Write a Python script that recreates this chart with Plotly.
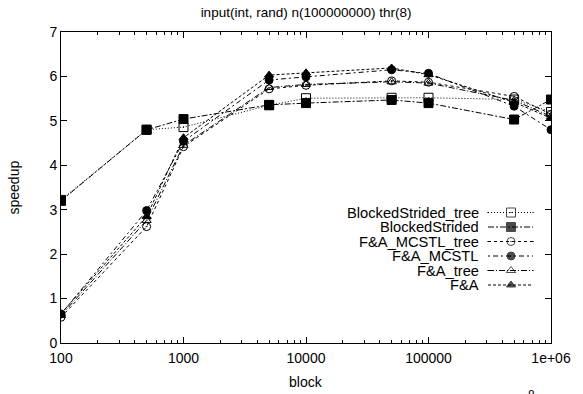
import plotly.graph_objects as go

block = [100, 500, 1000, 5000, 10000, 50000, 100000, 500000, 1000000]

bs_tree = [3.22, 4.80, 4.86, 5.35, 5.51, 5.52, 5.52, 5.48, 5.20]
bs = [3.20, 4.80, 5.04, 5.36, 5.40, 5.47, 5.40, 5.03, 5.48]
mcstl_tree = [0.58, 2.62, 4.42, 5.72, 5.80, 5.90, 5.87, 5.55, 5.15]
mcstl = [0.65, 2.98, 4.54, 5.92, 5.99, 6.15, 6.07, 5.33, 4.80]
fa_tree = [0.62, 2.76, 4.45, 5.75, 5.82, 5.88, 5.85, 5.46, 5.10]
fa = [0.66, 2.85, 4.62, 6.03, 6.08, 6.19, 6.04, 5.42, 5.06]

names = ["BlockedStrided_tree", "BlockedStrided", "F&A_MCSTL_tree",
         "F&A_MCSTL", "F&A_tree", "F&A"]
series = [bs_tree, bs, mcstl_tree, mcstl, fa_tree, fa]
symbols = ["square-open-dot", "square", "circle-open-dot", "circle",
           "triangle-up-open-dot", "triangle-up"]
sizes = [9, 9, 8, 8, 8, 8]
dashes = ["1px,2px", "6px,2px,2px,2px", "3px,3px", "2px,3px,5px,3px",
          "6px,2px,1px,2px", "3px,2px"]

x_tickvals = [100, 1000, 10000, 100000, 1000000]
x_ticktext = ["100", "1000", "10000", "100000", "1e+06"]
y_tickvals = [0, 1, 2, 3, 4, 5, 6, 7]
minor_vals = [m * 10 ** e for e in range(2, 6) for m in range(2, 10)]

FONT = "Liberation Sans, Arial, Helvetica, sans-serif"
W, H = 583, 394
L, R, T, B = 61, 551, 32, 343


def px(x):
    return (x - L) / (R - L)


def py(y):
    return (B - y) / (B - T)


fig = go.Figure()

for name, ys, sym, sz, dash in zip(names, series, symbols, sizes, dashes):
    fig.add_trace(go.Scatter(
        x=block, y=ys, mode="lines+markers", name=name, showlegend=False,
        line=dict(color="black", width=1, dash=dash),
        marker=dict(symbol=sym, size=sz, color="black",
                    line=dict(color="black", width=1)),
    ))

# custom gnuplot-style key (text left, sample right) in pixel-like overlay axes
key_x0, key_xm, key_x1, key_text_x = 488, 511, 533, 480
key_y0, key_dy = 212.5, 14.5
for i, (name, sym, sz, dash) in enumerate(zip(names, symbols, sizes, dashes)):
    yy = key_y0 + i * key_dy
    fig.add_trace(go.Scatter(
        x=[key_x0, key_xm, key_x1], y=[yy, yy, yy], mode="lines+markers",
        xaxis="x2", yaxis="y2", showlegend=False, hoverinfo="skip",
        line=dict(color="black", width=1, dash=dash),
        marker=dict(symbol=sym, size=[0, sz, 0], color="black",
                    line=dict(color="black", width=1)),
    ))
    fig.add_annotation(x=px(key_text_x), y=py(yy), xref="paper", yref="paper", text=name,
                       showarrow=False, xanchor="right", yanchor="middle", borderpad=0,
                       font=dict(family=FONT, size=14.7, color="black"))

# axis titles
fig.add_annotation(x=px(13), y=py(187.5), xref="paper", yref="paper", text="speedup",
                   textangle=-90, showarrow=False, xanchor="center", yanchor="middle",
                   font=dict(family=FONT, size=14, color="black"))
fig.add_annotation(x=px(306), y=py(382), xref="paper", yref="paper", text="block",
                   showarrow=False, xanchor="center", yanchor="middle",
                   font=dict(family=FONT, size=14, color="black"))

fig.add_annotation(x=px(531), y=py(386.5), xref="paper", yref="paper", text="8",
                   showarrow=False, xanchor="center", yanchor="top", borderpad=0,
                   font=dict(family=FONT, size=12, color="black"))

axis_common = dict(showline=True, linecolor="black", linewidth=1, mirror="allticks",
                   ticks="inside", tickcolor="black", ticklen=6, showgrid=False,
                   zeroline=False, automargin=False,
                   tickfont=dict(family=FONT, size=14, color="black"))

fig.update_layout(
    width=W, height=H,
    margin=dict(l=L, r=W - R, t=T, b=H - B, autoexpand=False),
    plot_bgcolor="white", paper_bgcolor="white",
    title=dict(text="input(int, rand) n(100000000) thr(8)", x=0.525, xanchor="center",
               y=0.98, yanchor="top",
               font=dict(family=FONT, size=13.5, color="black")),
    xaxis=dict(type="log", range=[2, 6], tickmode="array", tickvals=x_tickvals,
               ticktext=x_ticktext, ticklabelstandoff=2,
               minor=dict(tickmode="array", tickvals=minor_vals, ticks="inside",
                          ticklen=3, tickcolor="black", showgrid=False),
               **axis_common),
    yaxis=dict(range=[0, 7], tickmode="array", tickvals=y_tickvals,
               **axis_common),
    xaxis2=dict(range=[L, R], overlaying="x", visible=False, fixedrange=True),
    yaxis2=dict(range=[B, T], overlaying="y", visible=False, fixedrange=True),
    showlegend=False,
)

fig.write_html("out.html", config={"displayModeBar": False, "staticPlot": True},
               post_script="document.body.style.margin='0';document.body.style.padding='0';")
